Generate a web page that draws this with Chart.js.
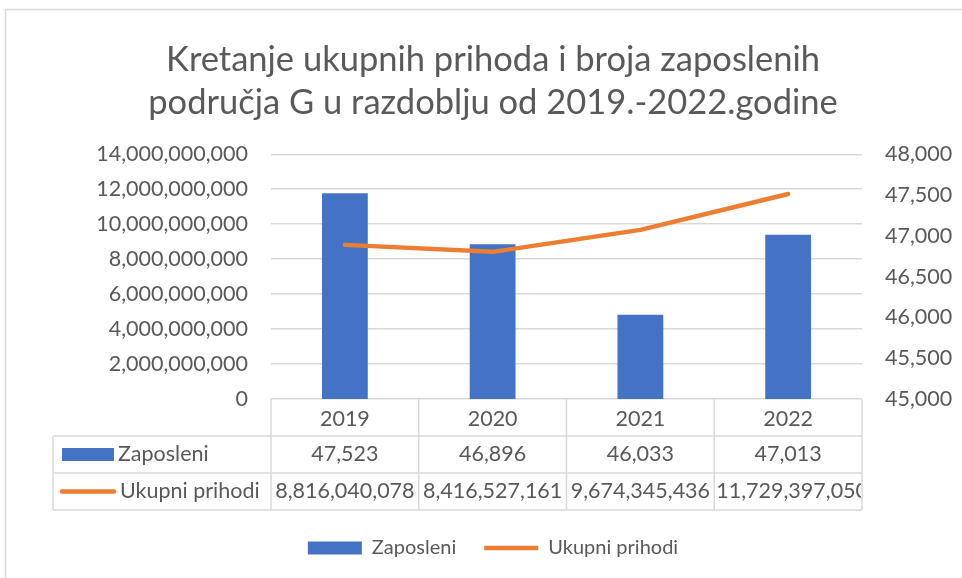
<!DOCTYPE html>
<html>
<head>
<meta charset="utf-8">
<script src="https://cdn.jsdelivr.net/npm/chart.js@4.4.0/dist/chart.umd.min.js"></script>
<style>
  html, body { margin: 0; padding: 0; background: #fff; }
  #wrap { width: 962px; height: 578px; }
</style>
</head>
<body>
<div id="wrap"><canvas id="chart" width="962" height="578"></canvas></div>
<script>
// Data
const years = ['2019', '2020', '2021', '2022'];
const zaposleni = [47523, 46896, 46033, 47013];
const ukupniPrihodi = [8816040078, 8416527161, 9674345436, 11729397050];
const leftTicks = [0, 2000000000, 4000000000, 6000000000, 8000000000, 10000000000, 12000000000, 14000000000];
const rightTicks = [45000, 45500, 46000, 46500, 47000, 47500, 48000];
const titleLines = ['Kretanje ukupnih prihoda i broja zaposlenih', 'područja G u razdoblju od 2019.-2022.godine'];

const textColor = '#595959';
const gridColor = '#d9d9d9';
const barColor = '#4472C4';
const lineColor = '#ED7D31';
const fontFamily = 'Lato, "Open Sans", sans-serif';
const tickFont = { family: fontFamily, size: 21.5 };

const fmt = v => Number(v).toLocaleString('en-US');

// White background and the outer chart border
const frame = {
    id: 'frame',
    beforeDraw(chart) {
        const ctx = chart.ctx;
        ctx.save();
        ctx.fillStyle = '#fff';
        ctx.fillRect(0, 0, chart.width, chart.height);
        ctx.strokeStyle = gridColor;
        ctx.lineWidth = 1.5;
        ctx.strokeRect(5.5, 9.5, 2000, 2000);
        ctx.restore();
    }
};

// Excel style data table under the category axis
const dataTable = {
    id: 'dataTable',
    afterDraw(chart) {
        const ctx = chart.ctx;
        const x = chart.scales.x;
        const rowH = (x.bottom - x.top) / 3;
        const rowTop = [x.top, x.top + rowH, x.top + 2 * rowH, x.bottom];
        const labelLeft = 53;

        // column edges from the category scale
        const edges = [x.left];
        for (let i = 0; i < years.length - 1; i++) {
            edges.push((x.getPixelForValue(i) + x.getPixelForValue(i + 1)) / 2);
        }
        edges.push(x.right);

        ctx.save();
        ctx.strokeStyle = gridColor;
        ctx.lineWidth = 1.5;
        ctx.beginPath();
        for (let r = 1; r < 4; r++) {
            ctx.moveTo(labelLeft, rowTop[r]);
            ctx.lineTo(x.right, rowTop[r]);
        }
        edges.forEach(e => {
            ctx.moveTo(e, rowTop[0]);
            ctx.lineTo(e, rowTop[3]);
        });
        ctx.moveTo(labelLeft, rowTop[1]);
        ctx.lineTo(labelLeft, rowTop[3]);
        ctx.stroke();

        // row values
        const rows = [zaposleni, ukupniPrihodi];
        ctx.font = `${tickFont.size}px ${fontFamily}`;
        ctx.fillStyle = textColor;
        ctx.textBaseline = 'middle';
        rows.forEach((vals, r) => {
            const cy = (rowTop[r + 1] + rowTop[r + 2]) / 2;
            vals.forEach((v, i) => {
                const txt = fmt(v);
                const l = edges[i], w = edges[i + 1] - edges[i];
                ctx.save();
                ctx.beginPath();
                ctx.rect(l + 1, rowTop[r + 1], w - 2, rowH);
                ctx.clip();
                const tw = ctx.measureText(txt).width;
                if (tw > w - 2) {
                    ctx.textAlign = 'left';
                    ctx.fillText(txt, l + 2, cy);
                } else {
                    ctx.textAlign = 'center';
                    ctx.fillText(txt, l + w / 2, cy);
                }
                ctx.restore();
            });
        });

        // legend keys inside the table
        const ds = chart.data.datasets;
        let cy = (rowTop[1] + rowTop[2]) / 2;
        ctx.fillStyle = ds[0].backgroundColor;
        ctx.fillRect(62, cy - 6.5, 52, 13);
        ctx.fillStyle = textColor;
        ctx.textAlign = 'left';
        ctx.fillText(ds[0].label, 118, cy);

        cy = (rowTop[2] + rowTop[3]) / 2;
        ctx.strokeStyle = ds[1].borderColor;
        ctx.lineWidth = 4.5;
        ctx.lineCap = 'round';
        ctx.beginPath();
        ctx.moveTo(62, cy);
        ctx.lineTo(114, cy);
        ctx.stroke();
        ctx.fillText(ds[1].label, 120, cy);
        ctx.restore();
    }
};

const ctx = document.getElementById('chart');
new Chart(ctx, {
    data: {
        labels: years,
        datasets: [
            {
                type: 'bar',
                label: 'Zaposleni',
                data: zaposleni,
                yAxisID: 'y1',
                backgroundColor: barColor,
                barPercentage: 0.31,
                categoryPercentage: 1,
                pointStyle: 'rect',
                order: 2
            },
            {
                type: 'line',
                label: 'Ukupni prihodi',
                data: ukupniPrihodi,
                yAxisID: 'y',
                borderColor: lineColor,
                backgroundColor: lineColor,
                borderWidth: 4.5,
                borderCapStyle: 'round',
                borderJoinStyle: 'round',
                pointRadius: 0,
                pointStyle: 'line',
                tension: 0,
                order: 1
            }
        ]
    },
    options: {
        responsive: false,
        animation: false,
        layout: { padding: { left: 24, right: 0, top: 10, bottom: 10 } },
        plugins: {
            title: {
                display: true,
                text: titleLines,
                color: textColor,
                font: { family: fontFamily, size: 34.5, weight: 'normal', lineHeight: 1.25 },
                padding: { top: 28, bottom: 30 }
            },
            legend: {
                position: 'bottom',
                labels: {
                    usePointStyle: true,
                    pointStyleWidth: 54,
                    boxHeight: 13,
                    color: textColor,
                    font: { family: fontFamily, size: 20 },
                    padding: 28,
                    sort: (a, b) => a.datasetIndex - b.datasetIndex
                }
            },
            tooltip: { enabled: false }
        },
        scales: {
            x: {
                type: 'category',
                offset: true,
                grid: { display: false, drawTicks: false },
                border: { display: false },
                ticks: { color: textColor, font: tickFont, padding: 7 },
                afterFit: s => { s.height = 111; }
            },
            y: {
                position: 'left',
                min: leftTicks[0],
                max: leftTicks[leftTicks.length - 1],
                grid: { color: gridColor, lineWidth: 1.5, drawTicks: false },
                border: { display: false },
                ticks: {
                    stepSize: leftTicks[1] - leftTicks[0],
                    color: textColor,
                    font: tickFont,
                    padding: 23,
                    callback: v => fmt(v)
                },
                afterFit: s => { s.width = 247; }
            },
            y1: {
                position: 'right',
                min: rightTicks[0],
                max: rightTicks[rightTicks.length - 1],
                grid: { drawOnChartArea: false, drawTicks: false },
                border: { display: false },
                ticks: {
                    stepSize: rightTicks[1] - rightTicks[0],
                    color: textColor,
                    font: tickFont,
                    padding: 23,
                    callback: v => fmt(v)
                },
                afterFit: s => { s.width = 100; }
            }
        }
    },
    plugins: [frame, dataTable]
});
</script>
</body>
</html>
